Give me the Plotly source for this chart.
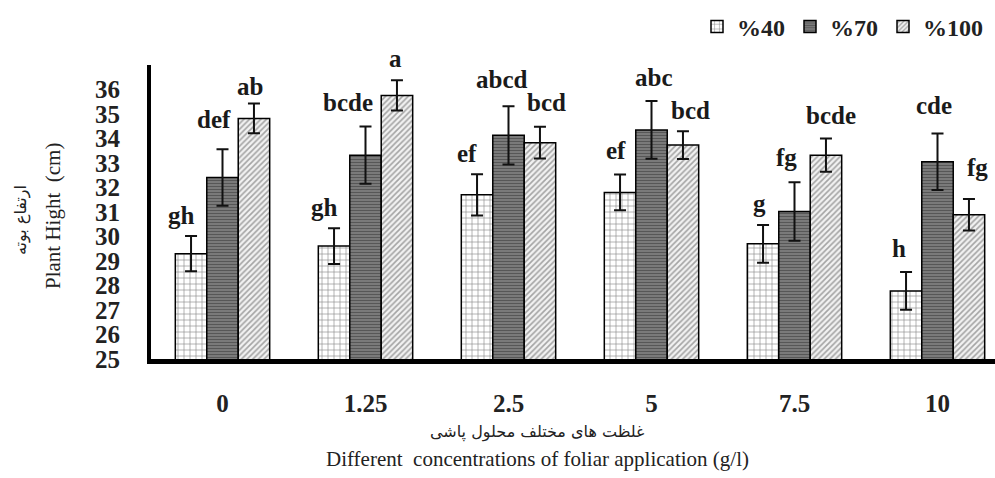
import plotly.graph_objects as go

# ---------------- data ----------------
categories = ["0", "1.25", "2.5", "5", "7.5", "10"]
series_names = ["%40", "%70", "%100"]
vals_40 = [29.30, 29.61, 31.70, 31.80, 29.70, 27.78]
vals_70 = [32.41, 33.32, 34.13, 34.35, 31.02, 33.05]
vals_100 = [34.82, 35.76, 33.83, 33.73, 33.32, 30.89]
err_40 = [0.72, 0.73, 0.84, 0.73, 0.77, 0.77]
err_70 = [1.15, 1.17, 1.19, 1.18, 1.19, 1.15]
err_100 = [0.61, 0.62, 0.65, 0.57, 0.68, 0.64]
letters_40 = ["gh", "gh", "ef", "ef", "g", "h"]
letters_70 = ["def", "bcde", "abcd", "abc", "fg", "cde"]
letters_100 = ["ab", "a", "bcd", "bcd", "bcde", "fg"]
y_ticks = list(range(25, 37))

# ---------------- layout constants ----------------
W, H = 995, 478
L, R, T, B = 151, 0, 65, 119
plot_w = W - L - R
plot_h = H - T - B
cat_px = 143.0
x_max = -0.5 + plot_w / cat_px

SERIF = "Liberation Serif"
AR = "DejaVu Sans"

styles = [
    dict(shape="+", bgcolor="white", fgcolor="#111111", size=6, solidity=0.2),
    dict(shape="-", bgcolor="#7a7a7a", fgcolor="#333333", size=3, solidity=0.35),
    dict(shape="/", bgcolor="#f2f2f2", fgcolor="#555555", size=4, solidity=0.4),
]

def bold(s):
    return "<b>" + s + "</b>"

xs = list(range(len(categories)))
fig = go.Figure()
for name, vals, errs, st in zip(series_names, [vals_40, vals_70, vals_100],
                                [err_40, err_70, err_100], styles):
    fig.add_trace(go.Bar(
        x=xs, y=vals, name=bold(name),
        marker=dict(color=st["bgcolor"], pattern=st,
                    line=dict(color="black", width=1.5)),
        error_y=dict(type="data", array=errs, visible=True,
                     color="#111111", thickness=2, width=6),
    ))

# letter labels (offsets in pixels relative to error-bar top)
bar_w = 1 - 0.34
offs = [-bar_w / 3, 0, bar_w / 3]
xshifts = [[-10, -10, -10, -4, -3.5, -6.7],
           [-8.5, -18, -6.4, 2, -8.3, -3.5],
           [-4.4, -1.7, 6.7, 8, 4.7, 8.3]]
yshifts = [[20.7, 21, 20.4, 23.7, 21, 24],
           [30, 24, 26.7, 23.3, 25, 28.4],
           [17.3, 22, 24, 20.3, 22.7, 31.6]]
annotations = []
for si, (vals, errs, letters) in enumerate(zip([vals_40, vals_70, vals_100],
                                               [err_40, err_70, err_100],
                                               [letters_40, letters_70, letters_100])):
    for ci in range(len(categories)):
        annotations.append(dict(
            x=ci + offs[si], y=vals[ci] + errs[ci], xref="x", yref="y",
            text=bold(letters[ci]), showarrow=False, xanchor="center", yanchor="middle",
            xshift=xshifts[si][ci], yshift=yshifts[si][ci],
            font=dict(family=SERIF, size=25, color="#1a1a1a"),
        ))

def px_x(p):
    return (p - L) / plot_w

def px_y(p):
    return (H - B - p) / plot_h

# axis titles
annotations += [
    dict(x=px_x(53), y=px_y(216), xref="paper", yref="paper", text="Plant Hight  (cm)",
         textangle=-90, showarrow=False, xanchor="center", yanchor="middle",
         font=dict(family=SERIF, size=21, color="#222")),
    dict(x=px_x(21), y=px_y(220), xref="paper", yref="paper", text="ارتفاع بوته",
         textangle=-90, showarrow=False, xanchor="center", yanchor="middle",
         font=dict(family=AR, size=16, color="#222")),
    dict(x=px_x(537), y=px_y(432), xref="paper", yref="paper", text="غلظت های مختلف محلول پاشی",
         showarrow=False, xanchor="center", yanchor="middle",
         font=dict(family=AR, size=16, color="#222")),
    dict(x=px_x(537), y=px_y(459), xref="paper", yref="paper",
         text="Different  concentrations of foliar application (g/l)",
         showarrow=False, xanchor="center", yanchor="middle",
         font=dict(family=SERIF, size=21, color="#222")),
]

fig.update_layout(
    width=W, height=H,
    margin=dict(l=L, r=R, t=T, b=B, pad=0),
    paper_bgcolor="white", plot_bgcolor="white",
    barmode="group", bargap=0.34, bargroupgap=0,
    showlegend=True,
    legend=dict(orientation="h", x=px_x(988), xanchor="right", y=px_y(27), yanchor="middle",
                font=dict(family=SERIF, size=24, color="#222"),
                itemwidth=30, tracegroupgap=0, bgcolor="rgba(0,0,0,0)"),
    xaxis=dict(range=[-0.5, x_max], tickmode="array", tickvals=xs,
               ticktext=[bold(c) for c in categories],
               showgrid=False, zeroline=False, showline=True, linecolor="black", linewidth=5,
               ticks="", ticklabelstandoff=18,
               tickfont=dict(family=SERIF, size=25, color="#222")),
    yaxis=dict(range=[25, 37], tickmode="array", tickvals=y_ticks,
               ticktext=[bold(str(v)) for v in y_ticks],
               showgrid=False, zeroline=False, showline=True, linecolor="black", linewidth=4,
               ticks="", ticklabelstandoff=22,
               tickfont=dict(family=SERIF, size=25, color="#222")),
    annotations=annotations,
)

fig.write_html("out.html")
